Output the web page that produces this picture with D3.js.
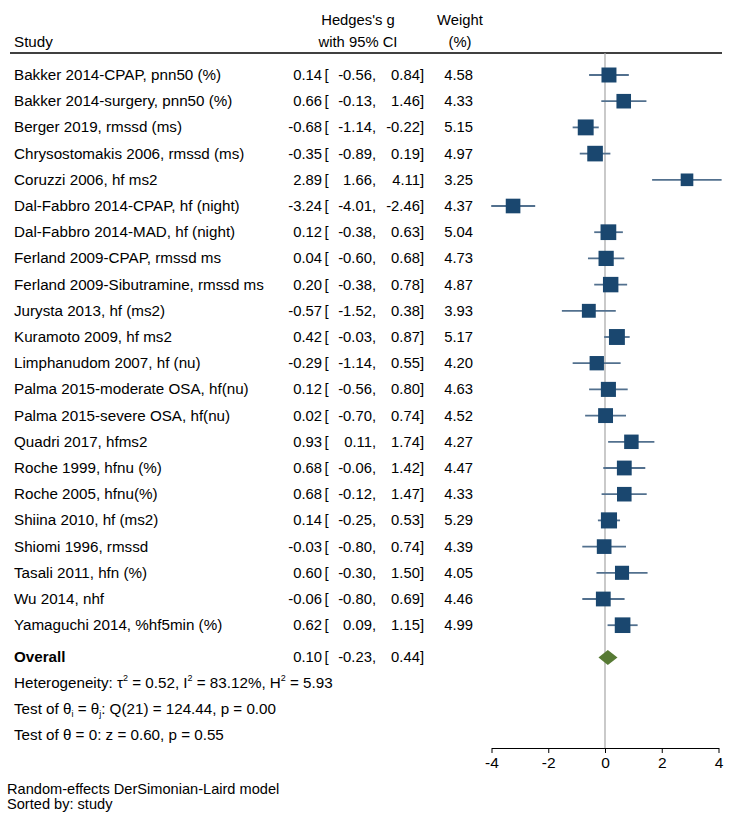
<!DOCTYPE html>
<html>
<head>
<meta charset="utf-8">
<script src="https://cdn.jsdelivr.net/npm/d3@7"></script>
<style>
  html, body { margin: 0; padding: 0; background: #fff; }
  text { font-family: "Liberation Sans", Arial, Helvetica, sans-serif; fill: #000; }
</style>
</head>
<body>
<svg id="chart" width="733" height="819"></svg>
<script>
const studies = [
  "Bakker 2014-CPAP, pnn50 (%)",
  "Bakker 2014-surgery, pnn50 (%)",
  "Berger 2019, rmssd (ms)",
  "Chrysostomakis 2006, rmssd (ms)",
  "Coruzzi 2006, hf ms2",
  "Dal-Fabbro 2014-CPAP, hf (night)",
  "Dal-Fabbro 2014-MAD, hf (night)",
  "Ferland 2009-CPAP, rmssd ms",
  "Ferland 2009-Sibutramine, rmssd ms",
  "Jurysta 2013, hf (ms2)",
  "Kuramoto 2009, hf ms2",
  "Limphanudom 2007, hf (nu)",
  "Palma 2015-moderate OSA, hf(nu)",
  "Palma 2015-severe OSA, hf(nu)",
  "Quadri 2017, hfms2",
  "Roche 1999, hfnu (%)",
  "Roche 2005, hfnu(%)",
  "Shiina 2010, hf (ms2)",
  "Shiomi 1996, rmssd",
  "Tasali 2011, hfn (%)",
  "Wu 2014, nhf",
  "Yamaguchi 2014, %hf5min (%)"
];
const effect = [0.14, 0.66, -0.68, -0.35, 2.89, -3.24, 0.12, 0.04, 0.20, -0.57, 0.42, -0.29, 0.12, 0.02, 0.93, 0.68, 0.68, 0.14, -0.03, 0.60, -0.06, 0.62];
const ciLow  = [-0.56, -0.13, -1.14, -0.89, 1.66, -4.01, -0.38, -0.60, -0.38, -1.52, -0.03, -1.14, -0.56, -0.70, 0.11, -0.06, -0.12, -0.25, -0.80, -0.30, -0.80, 0.09];
const ciHigh = [0.84, 1.46, -0.22, 0.19, 4.11, -2.46, 0.63, 0.68, 0.78, 0.38, 0.87, 0.55, 0.80, 0.74, 1.74, 1.42, 1.47, 0.53, 0.74, 1.50, 0.69, 1.15];
const weight = [4.58, 4.33, 5.15, 4.97, 3.25, 4.37, 5.04, 4.73, 4.87, 3.93, 5.17, 4.20, 4.63, 4.52, 4.27, 4.47, 4.33, 5.29, 4.39, 4.05, 4.46, 4.99];
const overall = {label: "Overall", est: 0.10, lo: -0.23, hi: 0.44};
const xTicks = [-4, -2, 0, 2, 4];
const heterogeneity = {tau2: "0.52", I2: "83.12%", H2: "5.93", Q: "124.44", df: 21, pQ: "0.00", z: "0.60", pz: "0.55"};
const footnotes = ["Random-effects DerSimonian-Laird model", "Sorted by: study"];

const svg = d3.select("#chart");
const FS = 14.8;   // numeric columns / header
const LFS = 15.2;  // study labels and statistics text
const fmt = v => d3.format(".2f")(v).replace("\u2212", "-");

const x = d3.scaleLinear().domain([-4, 4]).range([491.5, 718.5]);
const y = d3.scaleLinear().domain([0, 1]).range([75, 101.2]); // row index -> center
const rowY = i => y(i);
const nRows = studies.length;
const overallY = rowY(nRows) + 6;
const axisY = 748;
const sideScale = d3.scaleSqrt().domain([0, 1]).range([0, 7.0]); // square side ∝ sqrt(weight)

// Header
svg.append("text").attr("x", 14).attr("y", 47).attr("font-size", LFS).text("Study");
svg.append("text").attr("x", 358).attr("y", 25).attr("font-size", FS).attr("text-anchor", "middle").text("Hedges's g");
svg.append("text").attr("x", 358).attr("y", 47).attr("font-size", FS).attr("text-anchor", "middle").text("with 95% CI");
svg.append("text").attr("x", 460).attr("y", 25).attr("font-size", FS).attr("text-anchor", "middle").text("Weight");
svg.append("text").attr("x", 460).attr("y", 47).attr("font-size", FS).attr("text-anchor", "middle").text("(%)");
svg.append("line").attr("x1", 10).attr("x2", 722).attr("y1", 53).attr("y2", 53)
  .attr("stroke", "#000").attr("stroke-width", 1.3);

// Zero reference line
svg.append("line").attr("x1", x(0)).attr("x2", x(0)).attr("y1", 53).attr("y2", axisY)
  .attr("stroke", "#a6a6a6").attr("stroke-width", 1.2);

const rows = studies.map((s, i) => ({label: s, est: effect[i], lo: ciLow[i], hi: ciHigh[i], w: weight[i], i}));

function ciText(g, d, yy) {
  const base = yy + 5;
  g.append("text").attr("x", 322).attr("y", base).attr("font-size", FS).attr("text-anchor", "end").text(fmt(d.est));
  g.append("text").attr("x", 324.5).attr("y", base).attr("font-size", FS).text("[");
  g.append("text").attr("x", 376).attr("y", base).attr("font-size", FS).attr("text-anchor", "end").text(fmt(d.lo) + ",");
  g.append("text").attr("x", 424).attr("y", base).attr("font-size", FS).attr("text-anchor", "end").text(fmt(d.hi) + "]");
}

const rg = svg.append("g");
rows.forEach(d => {
  const yy = rowY(d.i);
  const g = rg.append("g");
  g.append("text").attr("x", 14).attr("y", yy + 5).attr("font-size", LFS).text(d.label);
  ciText(g, d, yy);
  g.append("text").attr("x", 473).attr("y", yy + 5).attr("font-size", FS).attr("text-anchor", "end").text(fmt(d.w));
  g.append("line").attr("x1", x(d.lo)).attr("x2", x(d.hi)).attr("y1", yy).attr("y2", yy)
    .attr("stroke", "#52708e").attr("stroke-width", 1.8);
  const half = sideScale(d.w) / 2;
  g.append("rect").attr("x", x(d.est) - half).attr("y", yy - half)
    .attr("width", half * 2).attr("height", half * 2).attr("fill", "#1a476f");
});

// Overall
const og = svg.append("g");
og.append("text").attr("x", 14).attr("y", overallY + 5).attr("font-size", LFS).attr("font-weight", "bold").text(overall.label);
ciText(og, overall, overallY);
og.append("path")
  .attr("d", `M${x(overall.lo)},${overallY} L${x(overall.est)},${overallY - 7.5} L${x(overall.hi)},${overallY} L${x(overall.est)},${overallY + 7.5} Z`)
  .attr("fill", "#577a34");

// Heterogeneity / tests
const hy = overallY + 26;
const t1 = svg.append("text").attr("x", 14).attr("y", hy + 5).attr("font-size", LFS);
t1.append("tspan").text("Heterogeneity: τ");
t1.append("tspan").attr("font-size", 9).attr("dy", -7).text("2");
t1.append("tspan").attr("dy", 7).text(" = " + heterogeneity.tau2 + ", I");
t1.append("tspan").attr("font-size", 9).attr("dy", -7).text("2");
t1.append("tspan").attr("dy", 7).text(" = " + heterogeneity.I2 + ", H");
t1.append("tspan").attr("font-size", 9).attr("dy", -7).text("2");
t1.append("tspan").attr("dy", 7).text(" = " + heterogeneity.H2);

const t2 = svg.append("text").attr("x", 14).attr("y", hy + 26 + 5).attr("font-size", LFS);
t2.append("tspan").text("Test of θ");
t2.append("tspan").attr("font-size", 9).attr("dy", 3).text("i");
t2.append("tspan").attr("dy", -3).text(" = θ");
t2.append("tspan").attr("font-size", 9).attr("dy", 3).text("j");
t2.append("tspan").attr("dy", -3).text(": Q(" + heterogeneity.df + ") = " + heterogeneity.Q + ", p = " + heterogeneity.pQ);

svg.append("text").attr("x", 14).attr("y", hy + 52 + 5).attr("font-size", LFS)
  .text("Test of θ = 0: z = " + heterogeneity.z + ", p = " + heterogeneity.pz);

// Axis
const axis = d3.axisBottom(x).tickValues(xTicks).tickSizeOuter(0).tickSizeInner(5).tickPadding(4)
  .tickFormat(d => String(d));
const ag = svg.append("g").attr("transform", `translate(0,${axisY})`).call(axis);
ag.select(".domain").attr("stroke", "#000").attr("stroke-width", 1);
ag.selectAll(".tick line").attr("stroke", "#000");
ag.selectAll(".tick text").attr("font-size", 15.5).attr("font-family", "Liberation Sans, Arial, sans-serif").attr("fill", "#000");

// Footnotes
footnotes.forEach((f, i) => {
  svg.append("text").attr("x", 7).attr("y", 794 + i * 15).attr("font-size", 14.6).text(f);
});
</script>
</body>
</html>
